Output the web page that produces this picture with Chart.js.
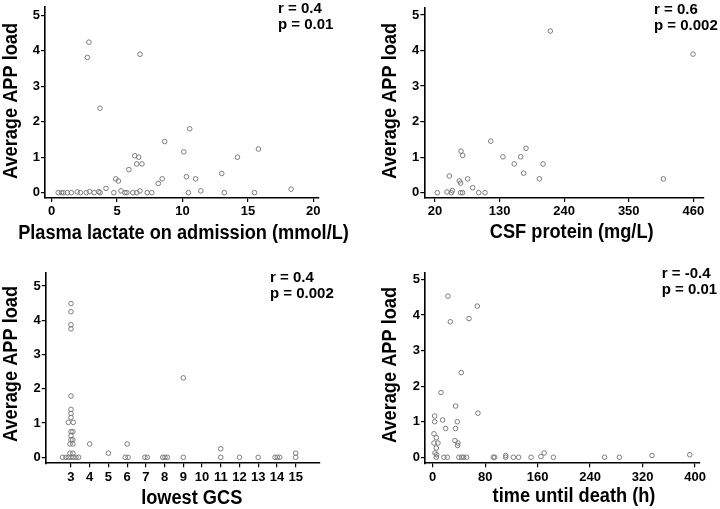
<!DOCTYPE html>
<html><head><meta charset="utf-8">
<script src="https://cdn.jsdelivr.net/npm/chart.js@4"></script>
<style>
html,body{margin:0;padding:0;background:#fff;width:720px;height:509px;overflow:hidden}
.p{position:absolute}
</style></head><body>
<div class="p" style="left:0;top:0;width:360px;height:250px"><canvas id="c1"></canvas></div>
<div class="p" style="left:360px;top:0;width:360px;height:250px"><canvas id="c2"></canvas></div>
<div class="p" style="left:0;top:250px;width:360px;height:259px"><canvas id="c3"></canvas></div>
<div class="p" style="left:360px;top:250px;width:360px;height:259px"><canvas id="c4"></canvas></div>
<script>
// ---- data ----
const lactateX = [2.85,2.73,6.75,3.69,10.55,8.64,10.1,15.8,14.2,6.35,6.65,6.5,6.9,5.9,4.9,5.1,8.45,8.15,10.3,11.0,13.0,4.15,5.3,6.75,11.4,18.3,3.6,2.9,1.95,
  0.5,0.75,0.9,1.2,1.5,2.2,2.65,3.25,3.7,4.75,5.6,5.75,6.2,6.5,7.3,7.65,10.45,13.2,15.5];
const lactateY = [4.24,3.81,3.9,2.38,1.80,1.44,1.15,1.23,1.0,1.04,1.0,0.81,0.81,0.65,0.39,0.33,0.39,0.26,0.45,0.39,0.54,0.12,0.05,0.05,0.05,0.1,0.03,0.03,0.02,
  0,0,0,0,0,0,0,0,0,0,0,0,0,0,0,0,0,0,0];

const csfX = [216.4,459.5,409,115,175,135.8,166,155,204,171,197.7,64.3,67.2,44.4,61.4,63.7,75.7,84.2,40.4,49.5,47.8,24,63.7,67,94.4,105.2];
const csfY = [4.55,3.9,0.39,1.45,1.25,1.01,1.01,0.81,0.81,0.55,0.39,1.17,1.05,0.47,0.33,0.27,0.39,0.14,0.02,0.06,0,0,0,0,0,0];

const gcsX = [3,3,3,3,3,3,3,3,2.86,3.12,3,3.1,3,3,3.1,2.95,3.1,2.95,3.1,2.55,2.73,2.86,3,3.12,3.27,3.41,
  4,5,6,5.9,6.05,6.95,7.08,7.9,8.02,8.15,9,9,11,11,12,13,13.9,14.02,14.15,15,15];
const gcsY = [4.49,4.25,3.87,3.75,1.79,1.40,1.28,1.16,1.02,1.02,0.75,0.75,0.63,0.51,0.51,0.39,0.39,0.12,0.12,0,0,0,0,0,0,0,
  0.39,0.12,0.39,0,0,0,0,0,0,0,2.32,0,0.25,0,0,0,0,0,0,0.12,0];

const timeX = [23.3,68,26.9,55.4,43.6,12.7,35,69,3,3,15.2,37.5,19.8,35,2,5.5,2,8,5.5,34,38.5,38,3.5,6,5.5,17.2,22.3,40,44.2,47.2,51.8,92.5,94.5,111.3,111.3,123,131,150,165,170,184,262,284.6,334.4,392];
const timeY = [4.53,4.25,3.81,3.9,2.38,1.82,1.44,1.24,1.16,1.0,1.05,1.0,0.81,0.81,0.66,0.55,0.40,0.40,0.26,0.47,0.40,0.33,0.12,0.07,0,0,0,0,0,0,0,0,0,0.05,0,0,0,0,0.02,0.12,0,0,0,0.05,0.07];

const yTickVals = [0,1,2,3,4,5];
const lactateTicks = [0,5,10,15,20];
const csfTicks = [20,130,240,350,460];
const gcsTicks = [3,4,5,6,7,8,9,10,11,12,13,14,15];
const timeTicks = [0,80,160,240,320,400];

const yTitleText = 'Average APP load';
const xTitles = ['Plasma lactate on admission (mmol/L)','CSF protein (mg/L)','lowest GCS','time until death (h)'];
const stats = [['r = 0.4','p = 0.01'],['r = 0.6','p = 0.002'],['r = 0.4','p = 0.002'],['r = -0.4','p = 0.01']];

// ---- rendering ----
const FAM = '"Liberation Sans", Arial, Helvetica, sans-serif';

const textPlugin = {
  id: 'panelText',
  afterDraw(chart, args, o) {
    const ctx = chart.ctx;
    ctx.save();
    ctx.fillStyle = '#000';
    ctx.font = 'bold 20px ' + FAM;
    ctx.textAlign = 'center';
    ctx.textBaseline = 'middle';
    ctx.save(); ctx.translate(o.xt[0], o.xt[1]); ctx.scale(0.91, 1); ctx.fillText(o.xTitle, 0, 0); ctx.restore();
    ctx.save(); ctx.translate(o.yt[0], o.yt[1]); ctx.rotate(-Math.PI / 2); ctx.scale(0.91, 1); ctx.fillText(o.yTitle, 0, 0); ctx.restore();
    ctx.font = 'bold 15px ' + FAM;
    ctx.textAlign = 'left';
    o.notes.forEach((t, i) => ctx.fillText(t, o.nt[0], o.nt[1] + i * o.nt[2]));
    ctx.restore();
  }
};

function mkScale(min, max, tickVals, size, isX) {
  return {
    type: 'linear', min, max,
    afterBuildTicks: s => { s.ticks = tickVals.map(v => ({ value: v })); },
    afterFit: s => {
      if (isX) s.height = size; else s.width = size;
      s.paddingTop = 0; s.paddingBottom = 0; s.paddingLeft = 0; s.paddingRight = 0;
    },
    ticks: { color: '#000', font: { family: FAM, size: 13, weight: 'bold' }, padding: isX ? 2 : 1,
             autoSkip: false, maxRotation: 0, minRotation: 0 },
    grid: { display: true, drawOnChartArea: false, drawTicks: true, tickLength: 4, color: '#000', lineWidth: 1.2 },
    border: { display: true, color: '#000', width: 1.6 },
    title: { display: false }
  };
}

function makeChart(id, xs, ys, cfg) {
  const pts = xs.map((x, i) => ({ x, y: ys[i] }));
  new Chart(document.getElementById(id), {
    type: 'scatter',
    data: { datasets: [{ data: pts, pointRadius: 2.3, pointBorderWidth: 1,
      pointBorderColor: '#7c7c7c', pointBackgroundColor: 'rgba(255,255,255,0)', showLine: false }] },
    options: {
      responsive: true, maintainAspectRatio: false, animation: false,
      layout: { padding: { left: 0, top: cfg.top, right: cfg.right, bottom: 0 } },
      scales: {
        x: mkScale(cfg.xr[0], cfg.xr[1], cfg.xticks, cfg.xh, true),
        y: mkScale(cfg.yr[0], cfg.yr[1], yTickVals, cfg.yw, false)
      },
      plugins: {
        legend: { display: false }, tooltip: { enabled: false },
        panelText: { xTitle: cfg.xTitle, yTitle: yTitleText, xt: cfg.xt, yt: cfg.yt, notes: cfg.notes, nt: cfg.nt }
      }
    },
    plugins: [textPlugin]
  });
}

makeChart('c1', lactateX, lactateY, { top: 7, right: 41.7, yw: 45, xh: 52, xr: [-0.51, 20.38], yr: [-0.15, 5.23],
  xticks: lactateTicks, xTitle: xTitles[0], xt: [183.5, 233], yt: [11, 101], notes: stats[0], nt: [278, 9, 15.5] });
makeChart('c2', csfX, csfY, { top: 8, right: 16.7, yw: 64.3, xh: 52, xr: [1.8, 477], yr: [-0.149, 5.197],
  xticks: csfTicks, xTitle: xTitles[1], xt: [211.7, 232], yt: [30, 101], notes: stats[1], nt: [294, 10, 16] });
makeChart('c3', gcsX, gcsY, { top: 22.7, right: 40, yw: 45.7, xh: 45.7, xr: [1.65, 16.3], yr: [-0.175, 5.39],
  xticks: gcsTicks, xTitle: xTitles[2], xt: [191.7, 248], yt: [11, 114], notes: stats[2], nt: [270, 28, 15.5] });
makeChart('c4', timeX, timeY, { top: 22.7, right: 20, yw: 65, xh: 45.7, xr: [-11.7, 407.6], yr: [-0.17, 5.19],
  xticks: timeTicks, xTitle: xTitles[3], xt: [214, 246.7], yt: [30, 115], notes: stats[3], nt: [301.7, 24, 15.5] });
</script>
</body></html>
